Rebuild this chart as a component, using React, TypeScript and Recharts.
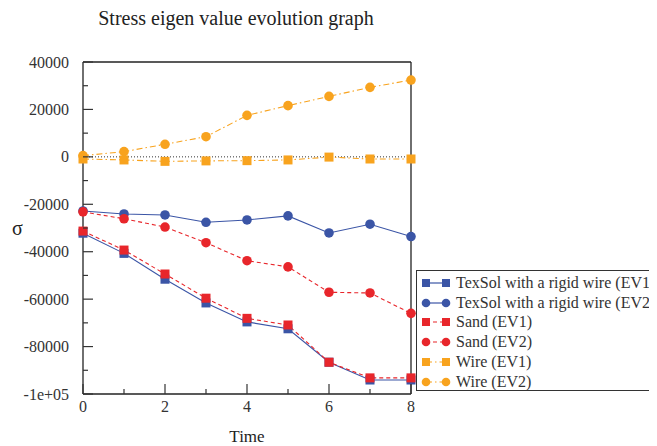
import React from 'react';
import { LineChart, Line, XAxis, YAxis, ReferenceLine, Legend } from 'recharts';

const times = [0, 1, 2, 3, 4, 5, 6, 7, 8];
const texsolEV1 = [-32200, -40700, -51600, -61600, -69600, -72500, -86600, -94100, -94100];
const texsolEV2 = [-22800, -24100, -24500, -27600, -26600, -24900, -32100, -28400, -33600];
const sandEV1 = [-31300, -39300, -49400, -59600, -68100, -70900, -86600, -93200, -93200];
const sandEV2 = [-23200, -26100, -29600, -36200, -43800, -46400, -57100, -57400, -66000];
const wireEV1 = [-900, -1300, -1900, -1700, -1600, -1300, -100, -900, -900];
const wireEV2 = [500, 2200, 5300, 8500, 17500, 21600, 25500, 29300, 32400];

const xTicks = [0, 1, 2, 3, 4, 5, 6, 7, 8];
const yTicks = [-100000, -90000, -80000, -70000, -60000, -50000, -40000, -30000, -20000, -10000, 0, 10000, 20000, 30000, 40000];

const BLUE = '#3b55a6';
const RED = '#e8262b';
const ORANGE = '#f8a31e';
const FONT = '"Liberation Serif", "DejaVu Serif", serif';

const data = times.map((t, i) => ({
  t,
  texsolEV1: texsolEV1[i],
  texsolEV2: texsolEV2[i],
  sandEV1: sandEV1[i],
  sandEV2: sandEV2[i],
  wireEV1: wireEV1[i],
  wireEV2: wireEV2[i],
}));

const series = [
  { key: 'texsolEV1', name: 'TexSol with a rigid wire (EV1)', color: BLUE, dash: undefined, shape: 'square' },
  { key: 'texsolEV2', name: 'TexSol with a rigid wire (EV2)', color: BLUE, dash: undefined, shape: 'circle' },
  { key: 'sandEV1', name: 'Sand (EV1)', color: RED, dash: '4 3', shape: 'square' },
  { key: 'sandEV2', name: 'Sand (EV2)', color: RED, dash: '4 3', shape: 'circle' },
  { key: 'wireEV1', name: 'Wire (EV1)', color: ORANGE, dash: '6 3 1.5 3', shape: 'square' },
  { key: 'wireEV2', name: 'Wire (EV2)', color: ORANGE, dash: '6 3 1.5 3', shape: 'circle' },
];

const makeDot = (color: string, shape: string) => (p: any) => {
  const { cx, cy, index } = p;
  if (cx == null || cy == null) return <g key={index} />;
  if (shape === 'square') {
    return <rect key={index} x={cx - 4.5} y={cy - 4.5} width={9} height={9} fill={color} />;
  }
  return <circle key={index} cx={cx} cy={cy} r={4.8} fill={color} />;
};

const YTick = (p: any) => {
  const { x, y, payload } = p;
  const v = payload.value;
  const major = v % 20000 === 0;
  const label = v === -100000 ? '-1e+05' : String(v);
  return (
    <g>
      <line x1={x} x2={x + (major ? 10 : 5)} y1={y} y2={y} stroke="#333" strokeWidth={1.2} />
      {major && (
        <text x={x - 14} y={y} dy="0.35em" textAnchor="end" fontFamily={FONT} fontSize={16} fill="#333">
          {label}
        </text>
      )}
    </g>
  );
};

const XTick = (p: any) => {
  const { x, y, payload } = p;
  const v = payload.value;
  const major = v % 2 === 0;
  return (
    <g>
      <line x1={x} x2={x} y1={y} y2={y - (major ? 10 : 5)} stroke="#333" strokeWidth={1.2} />
      {major && (
        <text x={x} y={y + 18} textAnchor="middle" fontFamily={FONT} fontSize={16} fill="#333">
          {String(v)}
        </text>
      )}
    </g>
  );
};

const LegendContent = () => (
  <div
    style={{
      border: '1px solid #333',
      background: '#fff',
      width: 260,
      height: 121,
      boxSizing: 'border-box',
      paddingTop: 2,
      fontFamily: FONT,
      fontSize: 16,
      color: '#333',
    }}
  >
    {series.map((s) => (
      <div key={s.key} style={{ display: 'flex', alignItems: 'center', height: 19.8, whiteSpace: 'nowrap' }}>
        <svg width={39} height={12} style={{ flex: '0 0 auto' }}>
          <line x1={9} x2={29} y1={6} y2={6} stroke={s.color} strokeWidth={1.2} strokeDasharray={s.dash} />
          {s.shape === 'square' ? (
            <>
              <rect x={5} y={2} width={8} height={8} fill={s.color} />
              <rect x={25} y={2} width={8} height={8} fill={s.color} />
            </>
          ) : (
            <>
              <circle cx={9} cy={6} r={4.3} fill={s.color} />
              <circle cx={29} cy={6} r={4.3} fill={s.color} />
            </>
          )}
        </svg>
        <span>{s.name}</span>
      </div>
    ))}
  </div>
);

export default function App() {
  return (
    <div style={{ position: 'relative', width: 649, height: 438, overflow: 'hidden', fontFamily: FONT }}>
      <div
        style={{
          position: 'absolute',
          left: 0,
          top: 0,
          width: 456,
          textAlign: 'center',
          fontSize: 20,
          lineHeight: '20px',
          color: '#222',
          zIndex: 2,
        }}
      >
        Stress eigen value evolution graph
      </div>
      <LineChart width={649} height={438} data={data} margin={{ top: 54, right: 246, left: 0, bottom: 4 }}>
        <XAxis
          dataKey="t"
          type="number"
          domain={[0, 8]}
          ticks={xTicks}
          interval={0}
          tick={<XTick />}
          tickLine={false}
          tickSize={0}
          tickMargin={0}
          height={48}
          axisLine={{ stroke: '#222', strokeWidth: 1.3 }}
          label={{ value: 'Time', position: 'insideBottom', offset: 0, fontFamily: FONT, fontSize: 17, fill: '#222' }}
        />
        <YAxis
          type="number"
          domain={[-100000, 40000]}
          ticks={yTicks}
          interval={0}
          tick={<YTick />}
          tickLine={false}
          tickSize={0}
          tickMargin={0}
          width={75}
          axisLine={{ stroke: '#222', strokeWidth: 1.3 }}
          allowDataOverflow
          label={{ value: 'σ', position: 'insideLeft', offset: 4, fontFamily: FONT, fontSize: 20, fill: '#222' }}
        />
        <ReferenceLine y={40000} stroke="#222" strokeWidth={1.3} />
        <ReferenceLine x={8} stroke="#222" strokeWidth={1.3} />
        <ReferenceLine y={0} stroke="#333" strokeDasharray="1 2" strokeWidth={1} />
        {series.map((s) => (
          <Line
            key={s.key}
            dataKey={s.key}
            name={s.name}
            stroke={s.color}
            strokeWidth={1.1}
            strokeDasharray={s.dash}
            dot={makeDot(s.color, s.shape)}
            activeDot={false}
            isAnimationActive={false}
          />
        ))}
        <Legend
          layout="vertical"
          align="center"
          verticalAlign="middle"
          content={<LegendContent />}
          wrapperStyle={{ position: 'absolute', left: 408, top: 262, width: 260, margin: 0 }}
        />
      </LineChart>
    </div>
  );
}
